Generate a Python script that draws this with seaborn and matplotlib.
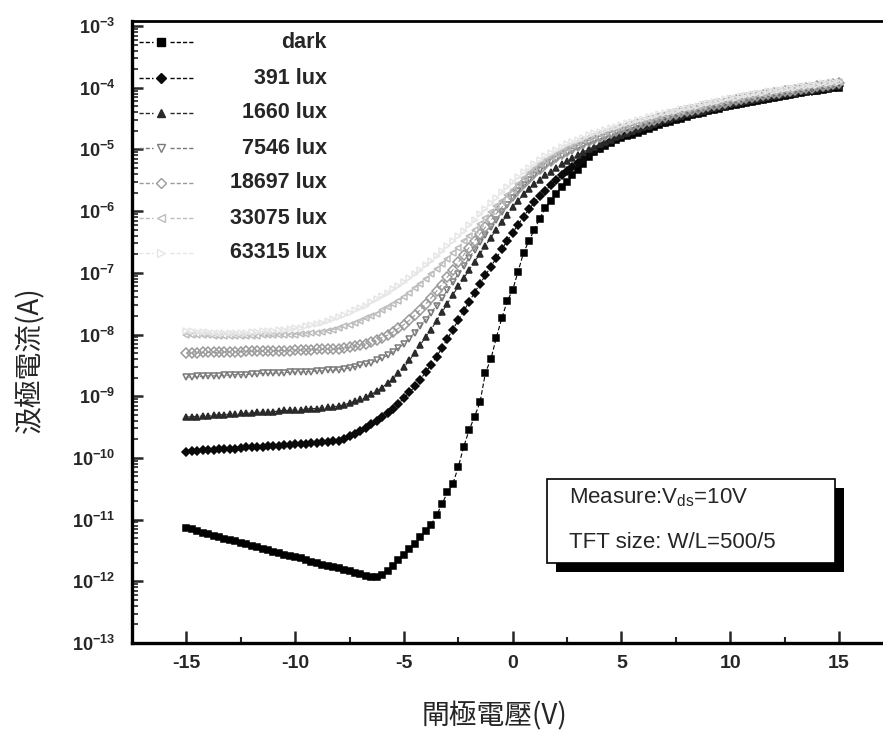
import numpy as np
import pandas as pd
import matplotlib
matplotlib.use("Agg")
import matplotlib.pyplot as plt
import seaborn as sns
from matplotlib.lines import Line2D
from matplotlib.patches import Rectangle
from matplotlib.ticker import FixedLocator, NullFormatter

# ---------------- data (log10 of drain current, gate sweep -15 V .. 15 V, 0.25 V step) -------------
labels = ["dark", "391 lux", "1660 lux", "7546 lux", "18697 lux", "33075 lux", "63315 lux"]

log_dark = [-11.14, -11.16, -11.19, -11.21, -11.24, -11.26, -11.28, -11.31, -11.33, -11.35,
            -11.38, -11.40, -11.43, -11.45, -11.47, -11.50, -11.52, -11.54, -11.57, -11.59,
            -11.61, -11.63, -11.66, -11.68, -11.70, -11.73, -11.75, -11.77, -11.79, -11.81,
            -11.83, -11.86, -11.88, -11.91, -11.93, -11.93, -11.90, -11.84, -11.76, -11.66,
            -11.57, -11.48, -11.39, -11.29, -11.19, -11.08, -10.93, -10.75, -10.56, -10.42,
            -10.15, -9.82, -9.55, -9.33, -9.10, -8.62, -8.40, -8.05, -7.74, -7.46,
            -7.28, -6.98, -6.68, -6.48, -6.30, -6.12, -5.95, -5.83, -5.72, -5.61,
            -5.53, -5.42, -5.33, -5.24, -5.13, -5.05, -4.99, -4.94, -4.89, -4.85,
            -4.82, -4.79, -4.76, -4.73, -4.70, -4.67, -4.64, -4.61, -4.58, -4.55,
            -4.52, -4.50, -4.47, -4.45, -4.43, -4.41, -4.38, -4.36, -4.34, -4.32,
            -4.30, -4.28, -4.26, -4.25, -4.23, -4.21, -4.20, -4.18, -4.16, -4.15,
            -4.13, -4.12, -4.10, -4.09, -4.07, -4.06, -4.05, -4.03, -4.02, -4.01, -4.00]

log_391 = [-9.90, -9.89, -9.89, -9.88, -9.88, -9.87, -9.86, -9.86, -9.85, -9.85,
           -9.84, -9.83, -9.83, -9.82, -9.82, -9.81, -9.80, -9.80, -9.79, -9.79,
           -9.78, -9.77, -9.77, -9.76, -9.76, -9.75, -9.74, -9.73, -9.72, -9.69,
           -9.65, -9.61, -9.56, -9.51, -9.45, -9.40, -9.34, -9.27, -9.20, -9.12,
           -9.03, -8.94, -8.84, -8.73, -8.61, -8.49, -8.36, -8.22, -8.07, -7.92,
           -7.77, -7.62, -7.47, -7.32, -7.18, -7.04, -6.90, -6.76, -6.62, -6.48,
           -6.35, -6.22, -6.09, -5.97, -5.86, -5.76, -5.67, -5.58, -5.50, -5.42,
           -5.35, -5.28, -5.22, -5.15, -5.08, -5.02, -4.97, -4.92, -4.87, -4.82,
           -4.78, -4.75, -4.72, -4.69, -4.66, -4.63, -4.61, -4.58, -4.55, -4.52,
           -4.50, -4.47, -4.45, -4.43, -4.41, -4.38, -4.36, -4.34, -4.32, -4.30,
           -4.28, -4.26, -4.25, -4.23, -4.21, -4.20, -4.18, -4.16, -4.15, -4.13,
           -4.12, -4.10, -4.09, -4.07, -4.06, -4.05, -4.03, -4.02, -4.01, -3.99, -3.98]

log_1660 = [-9.34, -9.33, -9.33, -9.32, -9.32, -9.31, -9.30, -9.30, -9.29, -9.29,
            -9.28, -9.28, -9.27, -9.26, -9.26, -9.25, -9.25, -9.24, -9.23, -9.23,
            -9.22, -9.22, -9.21, -9.20, -9.20, -9.19, -9.18, -9.17, -9.16, -9.14,
            -9.11, -9.08, -9.05, -9.01, -8.97, -8.92, -8.86, -8.79, -8.72, -8.63,
            -8.53, -8.42, -8.30, -8.17, -8.04, -7.92, -7.78, -7.64, -7.50, -7.36,
            -7.22, -7.09, -6.95, -6.82, -6.69, -6.56, -6.43, -6.30, -6.18, -6.06,
            -5.94, -5.83, -5.73, -5.64, -5.56, -5.49, -5.42, -5.36, -5.30, -5.24,
            -5.19, -5.14, -5.09, -5.04, -5.00, -4.96, -4.92, -4.88, -4.84, -4.80,
            -4.76, -4.73, -4.70, -4.67, -4.64, -4.62, -4.59, -4.56, -4.53, -4.51,
            -4.48, -4.46, -4.43, -4.41, -4.39, -4.37, -4.35, -4.33, -4.31, -4.29,
            -4.27, -4.25, -4.23, -4.22, -4.20, -4.18, -4.17, -4.15, -4.14, -4.12,
            -4.11, -4.09, -4.08, -4.06, -4.05, -4.04, -4.02, -4.01, -4.00, -3.98, -3.97]

log_7546 = [-8.69, -8.69, -8.68, -8.68, -8.67, -8.67, -8.67, -8.66, -8.66, -8.65,
            -8.65, -8.65, -8.64, -8.64, -8.63, -8.63, -8.63, -8.62, -8.62, -8.61,
            -8.61, -8.61, -8.60, -8.60, -8.59, -8.59, -8.58, -8.58, -8.57, -8.56,
            -8.54, -8.52, -8.50, -8.48, -8.46, -8.42, -8.38, -8.34, -8.28, -8.22,
            -8.15, -8.07, -7.97, -7.87, -7.76, -7.65, -7.53, -7.41, -7.28, -7.15,
            -7.02, -6.89, -6.76, -6.63, -6.50, -6.38, -6.26, -6.14, -6.02, -5.90,
            -5.79, -5.68, -5.58, -5.49, -5.41, -5.34, -5.27, -5.21, -5.16, -5.11,
            -5.06, -5.02, -4.98, -4.94, -4.90, -4.87, -4.83, -4.80, -4.77, -4.74,
            -4.71, -4.68, -4.65, -4.62, -4.60, -4.57, -4.55, -4.52, -4.50, -4.47,
            -4.45, -4.43, -4.40, -4.38, -4.36, -4.34, -4.32, -4.30, -4.28, -4.26,
            -4.24, -4.22, -4.21, -4.19, -4.17, -4.16, -4.14, -4.13, -4.11, -4.10,
            -4.08, -4.07, -4.05, -4.04, -4.03, -4.01, -4.00, -3.99, -3.97, -3.96, -3.95]

log_18697 = [-8.30, -8.30, -8.30, -8.29, -8.29, -8.29, -8.29, -8.28, -8.28, -8.28,
             -8.28, -8.27, -8.27, -8.27, -8.27, -8.27, -8.26, -8.26, -8.26, -8.26,
             -8.25, -8.25, -8.25, -8.25, -8.24, -8.24, -8.24, -8.24, -8.23, -8.22,
             -8.21, -8.19, -8.17, -8.15, -8.12, -8.09, -8.05, -8.01, -7.96, -7.90,
             -7.84, -7.77, -7.69, -7.60, -7.51, -7.41, -7.30, -7.19, -7.07, -6.95,
             -6.83, -6.71, -6.59, -6.48, -6.37, -6.26, -6.15, -6.04, -5.94, -5.84,
             -5.74, -5.64, -5.55, -5.46, -5.38, -5.31, -5.24, -5.18, -5.12, -5.07,
             -5.02, -4.98, -4.94, -4.90, -4.86, -4.83, -4.80, -4.76, -4.73, -4.70,
             -4.67, -4.65, -4.62, -4.59, -4.57, -4.54, -4.52, -4.49, -4.47, -4.44,
             -4.42, -4.40, -4.38, -4.36, -4.34, -4.32, -4.30, -4.28, -4.26, -4.24,
             -4.22, -4.20, -4.19, -4.17, -4.15, -4.14, -4.12, -4.11, -4.09, -4.08,
             -4.06, -4.05, -4.04, -4.02, -4.01, -4.00, -3.98, -3.97, -3.96, -3.94, -3.93]

log_33075 = [-8.00, -8.00, -8.01, -8.01, -8.01, -8.02, -8.02, -8.02, -8.02, -8.02,
             -8.02, -8.02, -8.02, -8.02, -8.01, -8.01, -8.01, -8.01, -8.00, -8.00,
             -8.00, -7.99, -7.99, -7.98, -7.97, -7.96, -7.94, -7.92, -7.90, -7.87,
             -7.84, -7.81, -7.78, -7.74, -7.70, -7.66, -7.61, -7.56, -7.51, -7.45,
             -7.39, -7.32, -7.25, -7.18, -7.10, -7.02, -6.94, -6.86, -6.77, -6.68,
             -6.59, -6.49, -6.40, -6.30, -6.21, -6.11, -6.02, -5.92, -5.83, -5.74,
             -5.65, -5.56, -5.47, -5.39, -5.31, -5.24, -5.18, -5.12, -5.07, -5.02,
             -4.97, -4.93, -4.89, -4.85, -4.82, -4.78, -4.75, -4.72, -4.69, -4.66,
             -4.63, -4.61, -4.58, -4.56, -4.53, -4.51, -4.48, -4.46, -4.44, -4.41,
             -4.39, -4.37, -4.35, -4.33, -4.31, -4.29, -4.27, -4.25, -4.23, -4.21,
             -4.19, -4.18, -4.16, -4.14, -4.13, -4.11, -4.10, -4.08, -4.07, -4.05,
             -4.04, -4.03, -4.01, -4.00, -3.99, -3.97, -3.96, -3.95, -3.94, -3.92, -3.91]

log_63315 = [-7.95, -7.95, -7.96, -7.96, -7.96, -7.97, -7.97, -7.97, -7.97, -7.97,
             -7.97, -7.97, -7.96, -7.96, -7.95, -7.95, -7.94, -7.93, -7.92, -7.91,
             -7.90, -7.89, -7.87, -7.85, -7.83, -7.81, -7.78, -7.75, -7.72, -7.69,
             -7.65, -7.61, -7.57, -7.53, -7.48, -7.43, -7.38, -7.33, -7.27, -7.21,
             -7.15, -7.09, -7.02, -6.95, -6.88, -6.81, -6.73, -6.65, -6.57, -6.49,
             -6.41, -6.32, -6.23, -6.14, -6.05, -5.96, -5.87, -5.78, -5.69, -5.61,
             -5.53, -5.45, -5.37, -5.30, -5.23, -5.17, -5.11, -5.06, -5.01, -4.96,
             -4.92, -4.88, -4.84, -4.81, -4.77, -4.74, -4.71, -4.68, -4.65, -4.63,
             -4.60, -4.58, -4.55, -4.53, -4.50, -4.48, -4.46, -4.43, -4.41, -4.39,
             -4.37, -4.35, -4.33, -4.31, -4.29, -4.27, -4.25, -4.23, -4.21, -4.19,
             -4.17, -4.16, -4.14, -4.12, -4.11, -4.09, -4.08, -4.06, -4.05, -4.04,
             -4.02, -4.01, -4.00, -3.98, -3.97, -3.96, -3.95, -3.93, -3.92, -3.91, -3.90]

series = [log_dark, log_391, log_1660, log_7546, log_18697, log_33075, log_63315]

x_ticks = [-15, -10, -5, 0, 5, 10, 15]
y_exponents = list(range(-13, -2))

# ---------------- styling ----------------
sns.set_theme(style="white")
plt.rcParams["font.family"] = ["Liberation Sans", "DejaVu Sans"]
plt.rcParams["mathtext.fontset"] = "custom"
plt.rcParams["mathtext.rm"] = "Liberation Sans"
plt.rcParams["mathtext.bf"] = "Liberation Sans:bold"
plt.rcParams["mathtext.it"] = "Liberation Sans:italic"

colors = ["#000000", "#0a0a0a", "#2a2a2a", "#7a7a7a", "#9a9a9a", "#bdbdbd", "#e6e6e6"]
markers = ["s", "D", "^", "v", "D", "<", ">"]
fills = ["full", "full", "full", "none", "none", "none", "none"]
msizes = [5.0, 4.2, 4.8, 5.0, 5.0, 4.8, 4.6]

W, H = 883, 736
fig = plt.figure(figsize=(W / 100, H / 100), dpi=100)
fig.patch.set_facecolor("white")

# axes: left spine at px 132, bottom at 643, top at 21; x from -17.5 (right edge beyond image)
left_px, bottom_px, top_px = 132, 643, 21
px_per_v = (839 - 186.5) / 30.0
right_px = left_px + 35.0 * px_per_v
ax = fig.add_axes([left_px / W, 1 - bottom_px / H, (right_px - left_px) / W, (bottom_px - top_px) / H])
ax.set_facecolor("white")

for vals, lab, c, m, fs, ms in zip(series, labels, colors, markers, fills, msizes):
    vg = np.linspace(-15, 15, len(vals))
    df = pd.DataFrame({"Vg": vg, "Id": 10 ** np.array(vals)})
    sns.lineplot(data=df, x="Vg", y="Id", ax=ax, color=c, marker=m, markersize=ms,
                 fillstyle=fs, markeredgecolor=c, markeredgewidth=1.1, linewidth=0.8,
                 linestyle=(0, (4, 2)), legend=False, sort=False, estimator=None)

ax.set_yscale("log")
ax.set_xlim(-17.5, 17.5)
ax.set_ylim(1e-13, 10 ** (-3 + 5 / 61.7))
ax.set_xlabel("")
ax.set_ylabel("")
ax.grid(False)

for side in ["left", "bottom", "top"]:
    ax.spines[side].set_visible(True)
    ax.spines[side].set_color("black")
ax.spines["left"].set_linewidth(2.4)
ax.spines["bottom"].set_linewidth(2.4)
ax.spines["top"].set_linewidth(2.0)
ax.spines["right"].set_visible(False)

ax.xaxis.set_major_locator(FixedLocator(x_ticks))
ax.xaxis.set_minor_locator(FixedLocator([-12.5, -7.5, -2.5, 2.5, 7.5, 12.5]))
ax.set_xticklabels([str(t) for t in x_ticks])
ax.yaxis.set_major_locator(FixedLocator([10.0 ** e for e in y_exponents]))
minor_y = [k * 10.0 ** e for e in y_exponents[:-1] for k in range(2, 10)]
ax.yaxis.set_minor_locator(FixedLocator(minor_y))
ax.yaxis.set_minor_formatter(NullFormatter())
ax.set_yticklabels([r"$\mathbf{10^{%d}}$" % e for e in y_exponents])

ax.tick_params(axis="x", which="major", direction="in", length=9, width=1.8, pad=9,
               labelsize=14, bottom=True, top=False)
ax.tick_params(axis="x", which="minor", direction="in", length=4, width=1.5, bottom=True, top=False)
ax.tick_params(axis="y", which="major", direction="in", length=8, width=1.8, pad=12,
               labelsize=13, left=True, right=False)
ax.tick_params(axis="y", which="minor", direction="in", length=4.5, width=1.2, left=True, right=False)
for t in ax.get_xticklabels():
    t.set_fontweight("bold")

# axis titles (Chinese)
cjk = ["Noto Sans CJK TC", "DejaVu Sans"]
fig.text(494 / W, 1 - 716 / H, "閘極電壓(V)", family=cjk, fontsize=20, ha="center", va="center")
fig.text(30 / W, 1 - 360 / H, "汲極電流(A)", family=cjk, fontsize=20, ha="center", va="center",
         rotation=90)

# legend (handles drawn in figure pixels, labels right aligned)
leg_y = [42, 78, 113, 148, 183, 218, 253]
for lab, c, m, fs, ms, yy in zip(labels, colors, markers, fills, msizes, leg_y):
    yf = 1 - yy / H
    fig.add_artist(Line2D([139 / W, 153 / W], [yf, yf], color=c, lw=1.0, linestyle=(0, (3, 1.5))))
    fig.add_artist(Line2D([170 / W, 194 / W], [yf, yf], color=c, lw=1.0, linestyle=(0, (3, 1.5))))
    fig.add_artist(Line2D([161 / W], [yf], color=c, marker=m, markersize=ms + 0.5, fillstyle=fs,
                          markeredgecolor=c, linestyle="none"))
    fig.text(327 / W, yf, lab, fontsize=15.5, fontweight="bold", ha="right", va="center")

# annotation box with shadow
bx0, by0, bx1, by1 = 547, 479, 835, 563
sh = 9
fig.add_artist(Rectangle(((bx0 + sh) / W, 1 - (by1 + sh) / H), (bx1 - bx0) / W, (by1 - by0) / H,
                         transform=fig.transFigure, facecolor="black", edgecolor="black", lw=0))
fig.add_artist(Rectangle((bx0 / W, 1 - by1 / H), (bx1 - bx0) / W, (by1 - by0) / H,
                         transform=fig.transFigure, facecolor="white", edgecolor="black", lw=1.2))
fig.text(569 / W, 1 - 498 / H, r"Measure:V$_{\rm ds}$=10V", fontsize=16, ha="left", va="center")
fig.text(569 / W, 1 - 542 / H, "TFT size: W/L=500/5", fontsize=16, ha="left", va="center")

fig.savefig("out.png", dpi=100, facecolor="white")
